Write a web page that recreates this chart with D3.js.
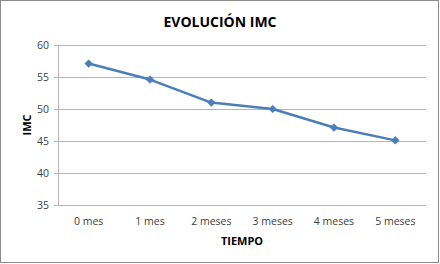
<!DOCTYPE html>
<html>
<head>
<meta charset="utf-8">
<script src="https://cdn.jsdelivr.net/npm/d3@7"></script>
<style>
  body { margin: 0; background: #fff; }
  svg { display: block; font-family: "Open Sans", "Liberation Sans", sans-serif; }
</style>
</head>
<body>
<svg></svg>
<script>
var width = 440, height = 264;

var meses = ['0 mes', '1 mes', '2 meses', '3 meses', '4 meses', '5 meses'];
var imc = [57.1, 54.6, 51.0, 50.0, 47.1, 45.1];
var yTicks = [35, 40, 45, 50, 55, 60];

var plot = {left: 58, right: 426, top: 45, bottom: 205};

var svg = d3.select('svg')
    .attr('width', width)
    .attr('height', height);

// outer frame
svg.append('rect')
  .attr('x', 0.5).attr('y', 0.5)
  .attr('width', width - 2).attr('height', height - 2)
  .attr('fill', '#fff')
  .attr('stroke', '#8c8c8c');

var x = d3.scaleBand()
    .domain(meses)
    .range([plot.left, plot.right]);

var y = d3.scaleLinear()
    .domain([35, 60])
    .range([plot.bottom, plot.top]);

// gridlines
svg.append('g')
  .selectAll('line')
  .data(yTicks)
  .enter()
  .append('line')
  .attr('x1', plot.left - 4)
  .attr('x2', plot.right)
  .attr('y1', function(d) { return Math.round(y(d)) + 0.5 })
  .attr('y2', function(d) { return Math.round(y(d)) + 0.5 })
  .attr('stroke', '#b4b4b4')
  .attr('stroke-width', 1);

// vertical axis line
svg.append('line')
  .attr('x1', plot.left + 0.5).attr('x2', plot.left + 0.5)
  .attr('y1', plot.top).attr('y2', plot.bottom + 0.5)
  .attr('stroke', '#b4b4b4');

// y tick labels
svg.append('g')
  .selectAll('text')
  .data(yTicks)
  .enter()
  .append('text')
  .attr('x', plot.left - 9)
  .attr('y', function(d) { return y(d) })
  .attr('dy', '0.35em')
  .attr('text-anchor', 'end')
  .attr('font-size', 10.5)
  .attr('fill', '#404040')
  .text(function(d) { return d });

// x tick labels
svg.append('g')
  .selectAll('text')
  .data(meses)
  .enter()
  .append('text')
  .attr('x', function(d) { return x(d) + x.bandwidth() / 2 })
  .attr('y', 221)
  .attr('dy', '0.35em')
  .attr('text-anchor', 'middle')
  .attr('font-size', 10.5)
  .attr('fill', '#404040')
  .text(function(d) { return d });

// titles
svg.append('text')
  .attr('x', 220).attr('y', 27)
  .attr('text-anchor', 'middle')
  .attr('font-size', 14)
  .attr('font-weight', 'bold')
  .attr('fill', '#000')
  .text('EVOLUCIÓN IMC');

svg.append('text')
  .attr('x', 242).attr('y', 245)
  .attr('text-anchor', 'middle')
  .attr('font-size', 11)
  .attr('font-weight', 'bold')
  .attr('fill', '#000')
  .text('TIEMPO');

svg.append('text')
  .attr('transform', 'translate(31,125) rotate(-90)')
  .attr('text-anchor', 'middle')
  .attr('font-size', 11)
  .attr('font-weight', 'bold')
  .attr('fill', '#000')
  .text('IMC');

// series line
var line = d3.line()
    .x(function(d, i) { return x(meses[i]) + x.bandwidth() / 2 })
    .y(function(d) { return y(d) });

svg.append('path')
  .datum(imc)
  .attr('d', line)
  .attr('fill', 'none')
  .attr('stroke', '#4a7ebb')
  .attr('stroke-width', 2.5)
  .attr('stroke-linejoin', 'round');

// square diamonds (rotated squares)
svg.append('g')
  .selectAll('path')
  .data(imc)
  .enter()
  .append('path')
  .attr('transform', function(d, i) {
    return 'translate(' + (x(meses[i]) + x.bandwidth() / 2) + ',' + y(d) + ') rotate(45)';
  })
  .attr('d', d3.symbol().type(d3.symbolSquare).size(30))
  .attr('fill', '#4a7ebb')
  .attr('stroke', '#4a7ebb')
  .attr('stroke-width', 0.5);
</script>
</body>
</html>
